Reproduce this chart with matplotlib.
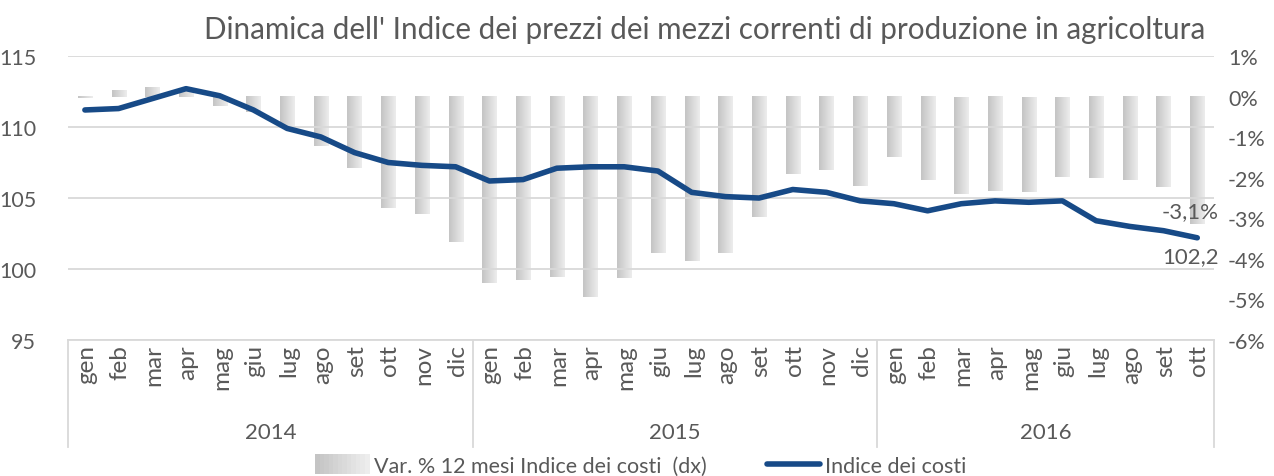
import matplotlib
matplotlib.use("Agg")
import matplotlib.pyplot as plt
import numpy as np
from matplotlib.lines import Line2D
from matplotlib.patches import Rectangle
from matplotlib.legend_handler import HandlerBase
from matplotlib.colors import LinearSegmentedColormap

plt.rcParams['font.family'] = ['Lato', 'DejaVu Sans']

months = ["gen", "feb", "mar", "apr", "mag", "giu", "lug", "ago", "set", "ott", "nov", "dic"]
years = ["2014", "2015", "2016"]
month_labels = months * 2 + months[:10]

index_values = [111.2, 111.3, 112.0, 112.7, 112.2, 111.2, 109.9, 109.3, 108.2, 107.5, 107.3, 107.2,
                106.2, 106.3, 107.1, 107.2, 107.2, 106.9, 105.4, 105.1, 105.0, 105.6, 105.4, 104.8,
                104.6, 104.1, 104.6, 104.8, 104.7, 104.8, 103.4, 103.0, 102.7, 102.2]
var_pct = [-0.04, 0.17, 0.23, 0.17, -0.24, -0.38, -0.72, -1.23, -1.77, -2.74, -2.89, -3.58,
           -4.60, -4.52, -4.45, -4.94, -4.47, -3.85, -4.05, -3.85, -2.96, -1.90, -1.82, -2.20,
           -1.48, -2.05, -2.39, -2.32, -2.34, -1.97, -2.00, -2.05, -2.24, -3.14]

TXT = "#595959"
LINE = "#174A87"
GRID = "#D9D9D9"

fig = plt.figure(figsize=(12.74, 4.77), dpi=100)
ax = fig.add_axes([0.0534, 0.285, 0.8996, 0.5955])
ax2 = ax.twinx()
ax.set_zorder(2)
ax2.set_zorder(1)
ax.patch.set_visible(False)

n = len(index_values)
x = np.arange(n)
bw = 0.42

# gradient bars on right axis
grad = np.linspace(0, 1, 64).reshape(1, -1)
cmap = LinearSegmentedColormap.from_list("g", ["#C4C4C4", "#EDEDED"])
for xi, v in zip(x, var_pct):
    lo, hi = (0, v) if v >= 0 else (v, 0)
    ax2.imshow(grad, extent=[xi - bw / 2, xi + bw / 2, lo, hi], aspect='auto', cmap=cmap,
               origin='lower', zorder=2, interpolation='bilinear')

ax2.set_xlim(-0.5, n - 0.5)
ax2.set_ylim(-6, 1)
ax2.set_yticks(np.arange(-6, 2, 1))
ax2.set_yticklabels([f"{t}%" for t in range(-6, 2)])

ax.plot(x, index_values, color=LINE, lw=4.0, solid_capstyle='round', solid_joinstyle='round', zorder=3)
ax.set_xlim(-0.5, n - 0.5)
ax.set_ylim(95, 115)
ax.set_yticks([95, 100, 105, 110, 115])
ax.grid(axis='y', color=GRID, lw=1.3, zorder=0)
ax.set_axisbelow(True)

for a in (ax, ax2):
    for s in a.spines.values():
        s.set_visible(False)
    a.tick_params(axis='y', length=0, labelsize=15.5, labelcolor=TXT)
    a.set_xticks([])
ax.tick_params(axis='y', pad=23)
ax2.tick_params(axis='y', pad=10)
ax.spines['bottom'].set_visible(True)
ax.spines['bottom'].set_color(GRID)
ax.spines['bottom'].set_linewidth(1.3)

# category axis: months and years
trans = ax.get_xaxis_transform()
for xi, lab in zip(x, month_labels):
    ax.text(xi + 0.05, -0.015, lab, rotation=90, ha='center', va='top', fontsize=17.5,
            color=TXT, transform=trans)
seps = [-0.5, 11.5, 23.5, n - 0.5]
for s in seps:
    ax.plot([s, s], [0, -0.375], color=GRID, lw=1.3, transform=trans, clip_on=False)
year_centers = [5.5, 17.5, (24 + n - 1) / 2]
for yc, yl in zip(year_centers, years):
    ax.text(yc, -0.325, yl, ha='center', va='center', fontsize=16, color=TXT, transform=trans)

# data labels
ax2.text(x[-1] - 0.2, var_pct[-1] + 0.08, f"{var_pct[-1]:.1f}%".replace('.', ','), ha='center', va='bottom',
         fontsize=16, color=TXT)
ax.text(x[-1] - 0.2, index_values[-1] - 0.6, f"{index_values[-1]:.1f}".replace('.', ','), ha='center',
        va='top', fontsize=16, color=TXT)

# title
fig.text(0.946, 0.938, "Dinamica dell' Indice dei prezzi dei mezzi correnti di produzione in agricoltura",
         ha='right', va='center', fontsize=21.3, color=TXT)

# legend
class GradHandler(HandlerBase):
    def create_artists(self, legend, orig_handle, xdescent, ydescent, width, height, fontsize, trans):
        arts = []
        k = 12
        for i in range(k):
            c = cmap(i / (k - 1))
            r = Rectangle((xdescent + width * i / k, ydescent - 2), width / k + 0.3, height + 4,
                          facecolor=c, edgecolor='none', transform=trans)
            arts.append(r)
        return arts

bar_handle = Rectangle((0, 0), 1, 1)
line_handle = Line2D([], [], color=LINE, lw=4.0, solid_capstyle='round')
leg = fig.legend([bar_handle, line_handle],
                 ["Var. % 12 mesi Indice dei costi  (dx)", "Indice dei costi"],
                 handler_map={Rectangle: GradHandler()},
                 loc='center', bbox_to_anchor=(0.503, 0.022), ncol=2, frameon=False,
                 fontsize=15.5, handlelength=2.5, handletextpad=0.2, columnspacing=2.8,
                 labelcolor=TXT)

fig.savefig("out.png", dpi=100)
